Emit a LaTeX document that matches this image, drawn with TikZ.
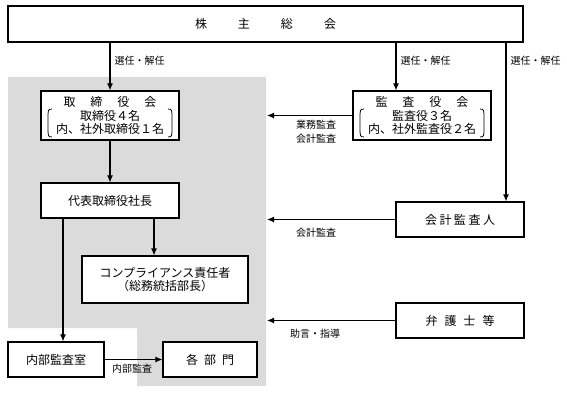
\documentclass[tikz,border=0pt]{standalone}
\usepackage{fontspec}
\setmainfont{Noto Sans CJK JP}
\usetikzlibrary{arrows.meta}
\definecolor{panelgray}{gray}{0.86}

\begin{document}
\begin{tikzpicture}[x=1pt, y=-1pt, line width=1.1pt,
  box/.style={draw, fill=white, inner sep=0pt, align=center, font=\fontsize{12}{13.5}\selectfont},
  lbl/.style={inner sep=0pt, align=center, font=\fontsize{10}{14}\selectfont},
  arr/.style={-{Latex[length=7pt,width=6pt]}}]

  \useasboundingbox (0,0) rectangle (567,393);

  % -- Company area --
  \fill[panelgray] (8,77) -- (266,77) -- (266,386) -- (137,386) -- (137,328) -- (8,328) -- cycle;

  % -- Boxes --
  \node[box, minimum width=515, minimum height=36] (gm) at (265.5,24) {株\hspace{31pt}主\hspace{31pt}総\hspace{31pt}会};
  \node[box, minimum width=138, minimum height=49] (board) at (110,115.5) {取\hspace{15pt}締\hspace{15pt}役\hspace{15pt}会\\取締役４名\\内、社外取締役１名};
  \node[box, minimum width=138, minimum height=35] (ceo) at (110,200.5) {代表取締役社長};
  \node[box, minimum width=166, minimum height=47] (comp) at (165,279.5) {コンプライアンス責任者\\（総務統括部長）};
  \node[box, minimum width=96, minimum height=35] (iaudit) at (56,359.5) {内部監査室};
  \node[box, minimum width=94, minimum height=35] (depts) at (210,359.5) {各\hspace{6pt}部\hspace{6pt}門};
  \node[box, minimum width=138, minimum height=49] (kansa) at (422,115.5) {監\hspace{15pt}査\hspace{15pt}役\hspace{15pt}会\\監査役３名\\内、社外監査役２名};
  \node[box, minimum width=128, minimum height=35] (cpa) at (460,219.5) {会\hspace{2.5pt}計\hspace{2.5pt}監\hspace{2.5pt}査\hspace{2.5pt}人};
  \node[box, minimum width=128, minimum height=35] (lawyer) at (460,320.5) {弁\hspace{7pt}護\hspace{7pt}士\hspace{7pt}等};

  % -- Brackets --
  \draw[line width=0.8pt] (52,109) .. controls (48,109) and (48,111) .. (48,114) -- (48,132) .. controls (48,135) and (48,137) .. (52,137);
  \draw[line width=0.8pt] (168,109) .. controls (172,109) and (172,111) .. (172,114) -- (172,132) .. controls (172,135) and (172,137) .. (168,137);
  \draw[line width=0.8pt] (364,109) .. controls (360,109) and (360,111) .. (360,114) -- (360,132) .. controls (360,135) and (360,137) .. (364,137);
  \draw[line width=0.8pt] (480,109) .. controls (484,109) and (484,111) .. (484,114) -- (484,132) .. controls (484,135) and (484,137) .. (480,137);

  % -- Arrows --
  \coordinate (xk) at (396,0);
  \coordinate (xc) at (506,0);
  \coordinate (xa) at (63,0);
  \coordinate (xb) at (154,0);
  \coordinate (gx) at (267,0);

  \draw[arr] (gm.south -| board.north) -- (board.north);
  \draw[arr] (gm.south -| xk) -- (kansa.north -| xk);
  \draw[arr] (gm.south -| xc) -- (cpa.north -| xc);
  \draw[arr] (board.south) -- (ceo.north);
  \draw[arr] (ceo.south -| xa) -- (iaudit.north -| xa);
  \draw[arr] (ceo.south -| xb) -- (comp.north -| xb);
  \draw[arr] (iaudit.east) -- (depts.west);
  \draw[arr] (kansa.west) -- (kansa.west -| gx);
  \draw[arr] (cpa.west) -- (cpa.west -| gx);
  \draw[arr] (lawyer.west) -- (lawyer.west -| gx);

  % -- Labels --
  \node[lbl, anchor=west] (elect1) at (114,61) {選任・解任};
  \node[lbl, anchor=west] (elect2) at (400,61) {選任・解任};
  \node[lbl, anchor=west] (elect3) at (510,61) {選任・解任};
  \node[lbl] (audits) at (316,132) {業務監査\\会計監査};
  \node[lbl] (acct) at (316,233) {会計監査};
  \node[lbl] (advice) at (315,334) {助言・指導};
  \node[lbl] (internal) at (132,369) {内部監査};

\end{tikzpicture}
\end{document}
